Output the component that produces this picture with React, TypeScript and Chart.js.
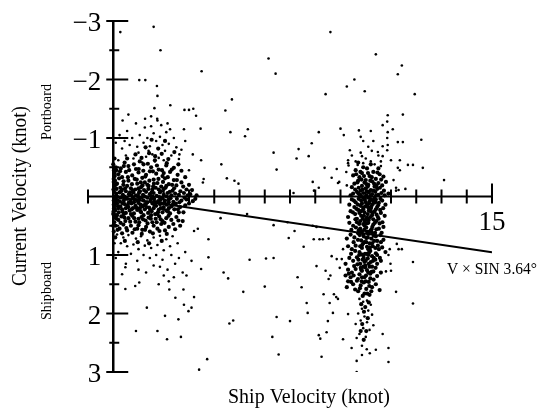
import React, { useEffect, useRef } from 'react';
import { Chart, registerables } from 'chart.js';

Chart.register(...registerables);

// ---- axes ----
const xMin = -1;
const xMax = 15;
const yMin = -3;
const yMax = 3;
const xTickValues = [-1, 1, 2, 3, 4, 5, 6, 7, 8, 9, 10, 11, 12, 13, 14, 15];
const yMajorTicks = [-3, -2, -1, 1, 2, 3];
const yTickLabels = ['\u22123', '\u22122', '\u22121', '1', '2', '3'];
const yMinorTicks = [-2.5, -1.5, -0.5, 0.5, 1.5, 2.5];
const xEndLabel = '15';
const xTitle = 'Ship Velocity (knot)';
const yTitle = 'Current Velocity (knot)';
const portLabel = 'Portboard';
const shipLabel = 'Shipboard';
const lineLabel = 'V \u00d7 SIN 3.64\u00b0';

// ---- V x sin 3.64° reference line ----
const lineSpeeds = [0, 15];
const lineCurrents = [0, 0.952];

// ---- observations: [ship velocity (knot), current velocity (knot)] ----
const leftCore: [number, number][] = [
  [0.1,-0.5],[0.3,-0.48],[0.6,-0.52],[0.9,-0.47],[1.2,-0.55],[1.5,-0.5],[1.8,-0.46],[2.1,-0.53],[2.4,-0.49],[0.45,-0.58],[1.05,-0.6],[1.65,-0.62],[2.0,-0.4],[2.7,-0.44],
  [0.05,-0.4],[0.2,-0.38],[0.5,-0.42],[0.75,-0.36],[1.0,-0.41],[1.3,-0.37],[1.45,-0.43],[1.7,-0.39],[1.95,-0.35],[2.25,-0.42],[2.55,-0.37],[0.35,-0.33],[0.85,-0.3],[1.15,-0.32],[1.6,-0.29],[2.05,-0.31],[2.4,-0.28],[2.85,-0.33],
  [0.02,-0.25],[0.15,-0.22],[0.4,-0.2],[0.6,-0.27],[0.95,-0.22],[1.25,-0.24],[1.4,-0.18],[1.75,-0.23],[1.9,-0.17],[2.2,-0.21],[2.5,-0.19],[2.7,-0.24],[3.0,-0.2],[0.28,-0.15],[0.7,-0.14],[1.1,-0.16],[1.55,-0.12],[2.0,-0.13],[2.35,-0.1],[2.9,-0.12],
  [0.03,-0.08],[0.12,-0.05],[0.25,-0.07],[0.38,-0.03],[0.5,-0.09],[0.62,-0.04],[0.8,-0.07],[0.9,-0.02],[1.02,-0.06],[1.18,-0.03],[1.3,-0.08],[1.45,-0.04],[1.6,-0.06],[1.72,-0.01],[1.85,-0.07],[2.0,-0.03],[2.15,-0.06],[2.3,-0.02],[2.45,-0.05],[2.6,-0.03],[2.8,-0.06],[3.05,-0.04],[3.3,-0.02],
  [0.05,0.03],[0.18,0.06],[0.3,0.02],[0.42,0.07],[0.55,0.04],[0.68,0.08],[0.78,0.02],[0.92,0.06],[1.05,0.03],[1.2,0.07],[1.35,0.02],[1.48,0.06],[1.62,0.04],[1.78,0.08],[1.92,0.03],[2.05,0.07],[2.2,0.05],[2.38,0.09],[2.52,0.04],[2.7,0.07],[2.9,0.05],[3.15,0.08],
  [0.02,0.14],[0.15,0.12],[0.28,0.17],[0.45,0.13],[0.6,0.18],[0.72,0.12],[0.88,0.16],[1.0,0.11],[1.15,0.17],[1.28,0.13],[1.42,0.19],[1.55,0.12],[1.7,0.16],[1.85,0.13],[2.0,0.18],[2.12,0.14],[2.3,0.17],[2.48,0.12],[2.65,0.18],[2.85,0.15],
  [0.08,0.24],[0.22,0.27],[0.35,0.22],[0.5,0.28],[0.65,0.24],[0.82,0.29],[0.95,0.23],[1.1,0.27],[1.25,0.22],[1.38,0.28],[1.52,0.25],[1.66,0.3],[1.8,0.23],[1.95,0.27],[2.1,0.24],[2.25,0.29],[2.42,0.22],[2.6,0.27],[0.0,0.3],
  [0.05,0.36],[0.2,0.4],[0.32,0.34],[0.48,0.42],[0.6,0.37],[0.75,0.33],[0.88,0.43],[1.0,0.38],[1.12,0.35],[1.28,0.41],[1.4,0.36],[1.55,0.44],[1.68,0.38],[1.82,0.34],[1.95,0.42],[2.1,0.37],[2.3,0.4],[2.5,0.35],[2.75,0.42],
  [0.1,0.5],[0.25,0.55],[0.4,0.48],[0.55,0.58],[0.7,0.5],[0.85,0.56],[1.0,0.49],[1.15,0.57],[1.3,0.52],[1.45,0.6],[1.6,0.5],[1.75,0.55],[1.9,0.47],[2.05,0.58],[2.2,0.52],[2.45,0.56],[2.65,0.5],
  [0.02,-0.3],[0.04,-0.18],[0.06,0.0],[0.08,0.09],[0.03,0.2],[0.1,0.32],[0.04,0.44],[0.12,-0.45],[0.0,-0.55],[0.05,-0.65],[0.02,0.6],
  [0.1,-0.2],[0.35,-0.12],[0.55,-0.18],[0.78,-0.1],[1.0,-0.14],[1.22,-0.11],[1.35,-0.2],[1.58,-0.17],[1.8,-0.12],[2.1,-0.18],[0.15,0.0],[0.45,0.0],[0.72,-0.02],[0.98,0.0],[1.25,0.0],[1.55,0.0],[1.82,0.01],[2.12,0.0],
  [0.1,0.1],[0.38,0.12],[0.65,0.1],[0.82,0.1],[1.08,0.14],[1.35,0.1],[1.62,0.09],[1.9,0.12],[2.2,0.1],[0.2,0.2],[0.5,0.2],[0.78,0.2],[1.05,0.2],[1.32,0.18],[1.6,0.2],[1.88,0.2],[2.2,0.2],[0.15,0.32],[0.42,0.3],[0.7,0.3],[1.2,0.32],[1.5,0.32],[1.75,0.3],
];

const leftDense: [number, number][] = [
  [0.07,-0.27],[0.23,-0.31],[0.41,-0.26],[0.58,-0.33],[0.74,-0.21],[0.93,-0.29],[1.09,-0.24],[1.27,-0.34],[1.43,-0.27],[1.61,-0.22],[1.79,-0.3],[1.97,-0.25],[2.16,-0.33],[2.33,-0.2],[2.52,-0.28],[2.77,-0.17],[3.12,-0.11],
  [0.13,-0.13],[0.31,-0.09],[0.47,-0.14],[0.66,-0.07],[0.87,-0.12],[1.06,-0.09],[1.16,-0.19],[1.39,-0.13],[1.52,-0.07],[1.68,-0.15],[1.89,-0.09],[2.07,-0.15],[2.24,-0.08],[2.41,-0.14],[2.66,-0.09],[2.95,-0.02],
  [0.09,0.04],[0.27,0.09],[0.49,0.03],[0.61,0.11],[0.84,0.05],[0.99,0.09],[1.13,0.02],[1.31,0.11],[1.51,0.03],[1.69,0.1],[1.87,0.06],[2.03,0.11],[2.27,0.03],[2.45,0.13],[2.62,0.1],[2.82,0.02],[3.0,0.12],[3.25,0.04],
  [0.04,0.21],[0.19,0.17],[0.37,0.26],[0.56,0.15],[0.73,0.22],[0.91,0.19],[1.08,0.25],[1.21,0.15],[1.46,0.23],[1.63,0.14],[1.77,0.27],[1.99,0.21],[2.17,0.26],[2.36,0.14],[2.56,0.22],[2.78,0.27],
  [0.13,0.38],[0.29,0.45],[0.44,0.36],[0.67,0.43],[0.83,0.37],[1.03,0.44],[1.18,0.39],[1.36,0.46],[1.49,0.38],[1.72,0.44],[1.88,0.39],[2.03,0.45],[2.19,0.33],[2.38,0.47],[2.58,0.41],
  [0.17,0.57],[0.35,0.63],[0.52,0.54],[0.76,0.62],[0.95,0.55],[1.13,0.64],[1.26,0.57],[1.57,0.63],[1.83,0.59],[2.12,0.64],[0.08,0.7],[0.46,0.76],[0.97,0.78],[1.42,0.8],[1.92,0.76],
  [0.27,-0.43],[0.42,-0.52],[0.63,-0.45],[0.82,-0.55],[1.01,-0.47],[1.19,-0.44],[1.37,-0.56],[1.57,-0.43],[1.73,-0.53],[1.93,-0.45],[2.12,-0.57],[2.32,-0.46],[2.58,-0.55],
  [0.55,-0.65],[0.88,-0.72],[1.12,-0.66],[1.42,-0.74],[1.66,-0.69],[1.92,-0.73],[2.18,-0.64],[2.42,-0.76],[1.28,-0.84],[1.78,-0.82],[2.05,-0.95],[1.52,-0.97],
  [0.01,-0.12],[0.02,0.07],[0.01,0.26],[0.03,-0.45],[0.0,0.5],[0.06,-0.35],[0.05,0.15],
];

const leftUpper: [number, number][] = [
  [0.2,-0.62],[0.5,-0.7],[0.8,-0.65],[1.0,-0.75],[1.3,-0.68],[1.55,-0.72],[1.8,-0.66],[2.05,-0.78],[2.3,-0.7],[2.6,-0.64],[0.35,-0.82],[0.65,-0.88],[0.95,-0.85],[1.2,-0.92],[1.45,-0.86],[1.7,-0.95],[1.95,-0.88],[2.2,-0.9],[2.5,-0.84],[0.1,-0.92],
  [0.75,-1.0],[1.05,-1.05],[1.35,-1.0],[1.6,-1.08],[1.85,-1.02],[2.1,-1.1],[2.4,-1.0],[0.55,-1.12],[1.25,-1.18],[1.5,-1.2],[1.9,-1.22],[2.25,-1.15],[0.9,-1.25],[1.75,-1.3],[2.0,-0.62],[1.15,-0.58],[0.45,-0.95],[2.7,-0.8],[2.85,-0.95],[1.4,-0.78],[0.25,-1.05],[1.65,-0.6],[2.15,-1.25],
];

const leftLower: [number, number][] = [
  [0.15,0.65],[0.4,0.7],[0.6,0.66],[0.9,0.72],[1.1,0.68],[1.35,0.75],[1.6,0.7],[1.85,0.67],[2.1,0.73],[2.35,0.68],[0.3,0.8],[0.55,0.85],[0.8,0.82],[1.0,0.9],[1.25,0.84],[1.5,0.88],[1.75,0.83],[2.0,0.92],[2.25,0.85],[2.55,0.8],
  [0.2,0.95],[0.7,0.98],[1.2,1.0],[1.45,1.05],[1.7,1.0],[1.95,1.08],[2.3,1.0],[2.6,1.05],[0.95,1.1],[1.6,1.18],[1.85,1.2],[2.15,1.25],[2.45,1.15],[1.0,1.25],[2.75,1.3],[1.3,1.3],[2.0,1.35],[2.4,1.38],[2.9,1.35],[1.8,1.5],[2.2,1.45],[0.5,1.15],[2.85,0.95],[3.1,1.1],[0.05,0.8],[0.1,1.05],
];

const rightCore: [number, number][] = [
  [9.6,-0.45],[9.85,-0.4],[10.05,-0.48],[10.3,-0.42],[10.55,-0.38],[9.75,-0.33],[10.15,-0.35],[10.4,-0.3],[10.7,-0.34],[9.5,-0.36],[10.0,-0.28],
  [9.55,-0.22],[9.7,-0.27],[9.85,-0.18],[9.95,-0.24],[10.1,-0.2],[10.25,-0.26],[10.35,-0.17],[10.5,-0.23],[10.65,-0.19],[10.8,-0.25],[9.45,-0.16],[10.0,-0.14],[10.2,-0.11],[10.45,-0.13],[9.8,-0.1],
  [9.5,-0.05],[9.65,-0.08],[9.78,-0.03],[9.9,-0.06],[10.02,-0.02],[10.12,-0.07],[10.25,-0.04],[10.38,-0.08],[10.5,-0.03],[10.62,-0.06],[10.75,-0.02],[9.4,-0.02],[10.9,-0.05],
  [9.45,0.05],[9.6,0.1],[9.72,0.04],[9.85,0.12],[9.95,0.06],[10.05,0.15],[10.15,0.08],[10.28,0.13],[10.4,0.05],[10.52,0.11],[10.65,0.07],[10.78,0.14],[9.55,0.18],[9.9,0.19],[10.2,0.2],[10.45,0.18],[10.1,0.02],[9.35,0.14],
  [9.4,0.25],[9.58,0.3],[9.7,0.23],[9.82,0.33],[9.95,0.27],[10.05,0.36],[10.12,0.24],[10.25,0.32],[10.35,0.26],[10.48,0.35],[10.6,0.28],[10.75,0.33],[9.65,0.38],[10.0,0.4],[10.3,0.39],[9.3,0.35],
  [9.35,0.45],[9.5,0.5],[9.65,0.44],[9.78,0.55],[9.9,0.47],[10.02,0.53],[10.1,0.45],[10.2,0.58],[10.3,0.48],[10.42,0.56],[10.55,0.46],[10.7,0.52],[9.85,0.6],[10.15,0.6],[9.95,0.42],
  [9.4,0.65],[9.55,0.7],[9.7,0.63],[9.82,0.75],[9.92,0.68],[10.02,0.78],[10.1,0.64],[10.22,0.72],[10.32,0.67],[10.45,0.76],[10.58,0.66],[10.7,0.74],[9.9,0.8],[10.15,0.8],[9.25,0.72],
  [9.3,0.85],[9.45,0.9],[9.6,0.84],[9.75,0.95],[9.85,0.88],[9.97,0.98],[10.05,0.86],[10.18,0.93],[10.28,0.85],[10.4,0.97],[10.52,0.9],[10.65,0.87],[9.9,1.0],[10.1,1.0],[10.78,0.95],
  [9.35,1.05],[9.5,1.1],[9.65,1.04],[9.78,1.15],[9.88,1.08],[9.98,1.18],[10.08,1.06],[10.2,1.12],[10.32,1.05],[10.45,1.15],[10.6,1.1],[9.9,1.2],[10.15,1.2],[9.2,1.15],
  [9.3,1.25],[9.45,1.3],[9.6,1.24],[9.75,1.33],[9.85,1.27],[9.95,1.38],[10.05,1.26],[10.18,1.32],[10.3,1.28],[10.45,1.36],[9.2,1.35],[9.4,1.38],[10.6,1.3],
  [9.3,1.45],[9.5,1.5],[9.65,1.44],[9.8,1.52],[9.92,1.47],[10.02,1.58],[10.12,1.46],[10.25,1.55],[10.4,1.5],[9.7,1.62],[9.95,1.66],[10.15,1.68],[9.25,1.55],[10.55,1.6],
  [9.72,-0.15],[9.88,-0.12],[10.08,-0.17],[10.3,-0.1],[10.42,-0.19],[9.76,0.0],[9.96,0.02],[10.18,-0.01],[10.34,0.03],[9.8,0.16],[10.0,0.1],[10.22,0.17],[10.38,0.1],[9.75,0.28],[9.9,0.22],[10.08,0.3],[10.2,0.25],[10.4,0.22],
  [9.78,0.42],[9.95,0.5],[10.12,0.4],[10.26,0.52],[10.42,0.42],[9.72,0.58],[9.9,0.65],[10.05,0.6],[10.25,0.62],[10.4,0.68],[9.78,0.85],[9.95,0.78],[10.1,0.9],[10.25,0.8],[10.38,0.88],
  [9.74,1.0],[9.92,1.05],[10.05,0.98],[10.25,1.02],[10.38,1.08],[9.8,1.22],[9.95,1.12],[10.1,1.3],[10.25,1.2],[9.85,1.38],[10.0,1.45],[10.18,1.4],
];

const rightDense: [number, number][] = [
  [9.62,-0.38],[9.79,-0.42],[9.93,-0.35],[10.09,-0.4],[10.24,-0.33],[10.46,-0.41],[10.61,-0.29],[9.67,-0.24],[9.83,-0.29],[10.03,-0.21],[10.18,-0.27],[10.33,-0.22],[10.56,-0.15],[10.72,-0.1],
  [9.58,-0.12],[9.71,-0.05],[9.87,0.01],[10.06,-0.09],[10.21,0.05],[10.41,-0.02],[10.58,0.04],[9.53,0.07],[9.69,0.14],[9.82,0.07],[9.98,0.17],[10.13,0.12],[10.31,0.08],[10.49,0.15],[10.69,0.2],
  [9.49,0.27],[9.63,0.21],[9.81,0.25],[9.93,0.33],[10.1,0.19],[10.27,0.28],[10.43,0.31],[10.57,0.23],[9.59,0.39],[9.74,0.47],[9.88,0.38],[10.04,0.46],[10.19,0.35],[10.36,0.45],[10.51,0.38],[10.66,0.44],
  [9.43,0.57],[9.61,0.53],[9.76,0.66],[9.94,0.57],[10.08,0.7],[10.23,0.56],[10.37,0.62],[10.52,0.55],[10.63,0.62],[9.52,0.78],[9.69,0.74],[9.86,0.83],[10.02,0.71],[10.17,0.87],[10.33,0.76],[10.48,0.84],[10.6,0.78],
  [9.42,0.98],[9.58,0.93],[9.71,1.08],[9.83,0.99],[10.0,1.1],[10.13,0.96],[10.29,1.1],[10.45,1.0],[10.56,1.05],[9.54,1.19],[9.67,1.16],[9.82,1.25],[9.97,1.21],[10.12,1.15],[10.23,1.29],[10.39,1.22],
  [9.33,1.32],[9.52,1.35],[9.69,1.41],[9.84,1.45],[10.01,1.35],[10.14,1.53],[10.31,1.42],[9.42,1.46],[9.58,1.59],[9.77,1.57],[9.88,1.7],[10.06,1.66],[10.22,1.62],[9.82,1.84],[9.98,1.89],[10.12,1.81],[9.93,1.97],[10.08,2.08],[9.86,2.18],[10.02,2.3],[9.92,2.45],[9.8,2.3],
  [9.9,-0.5],[10.2,-0.55],[10.5,-0.48],[9.7,-0.58],
];

const rightUpper: [number, number][] = [
  [9.6,-0.6],[9.8,-0.75],[10.0,-0.65],[10.35,-0.55],[10.5,-0.7],[9.45,-0.7],[10.1,-0.85],[9.9,-0.95],[10.3,-0.95],[10.6,-0.6],
  [9.37,-0.79],[10.24,-0.78],[10.48,-0.76],[10.67,-0.86],[10.87,-0.88],[10.85,-0.79],[10.67,-0.69],[11.0,-0.62],[11.35,-0.62],[9.85,-0.69],[9.3,-0.62],[9.3,-0.57],[9.32,-0.53],[9.9,-0.57],[10.2,-0.6],[9.68,-0.54],[10.6,-0.52],
  [9.8,-1.02],[10.85,-1.0],[9.73,-1.13],[10.2,-1.12],[9.13,-1.05],[9.0,-1.16],[10.67,-1.22],[10.85,-1.28],[10.87,-1.1],[11.07,-1.15],
];

const rightTail: [number, number][] = [
  [9.75,1.75],[9.9,1.8],[10.05,1.78],[10.2,1.85],[9.85,1.92],[10.1,1.95],[9.7,2.0],[9.95,2.05],[10.25,2.02],[9.8,2.12],[10.05,2.15],[9.9,2.25],[10.15,2.28],[9.75,2.35],[10.0,2.4],[10.3,2.2],[9.6,2.18],
  [10.67,2.35],[10.9,2.59],[10.4,2.62],[10.9,2.83],[10.16,2.68],[9.85,2.71],[9.64,2.81],[9.64,3.0],[9.44,2.59],[9.64,2.42],[9.85,2.55],[10.04,2.61],
];

const scatterPoints: [number, number][] = [
  [0.28,-2.81],[1.6,-2.9],[1.87,-2.5],[3.5,-2.14],[1.03,-1.99],[1.27,-1.99],[1.73,-1.89],[1.75,-1.72],[2.26,-1.56],[1.63,-1.51],[2.82,-1.48],[3.0,-1.48],[3.17,-1.5],[3.28,-1.38],[4.7,-1.66],[4.44,-1.47],[6.15,-2.36],
  [0.37,-1.3],[0.6,-1.4],[1.26,-1.33],[1.5,-1.37],[1.74,-1.33],[3.46,-1.16],[4.64,-1.1],[5.33,-1.15],[5.22,-1.03],[4.28,-0.55],[3.48,-0.62],[3.15,-0.72],[3.58,-0.3],[3.55,-0.24],[4.5,-0.31],[4.8,-0.27],[4.96,-0.22],[2.62,-0.72],[2.8,-1.15],[3.0,-0.45],
  [0.48,1.21],[0.35,1.33],[0.48,1.58],[0.87,1.53],[1.03,1.47],[0.9,2.3],[1.33,1.9],[1.75,2.3],[2.05,2.04],[2.13,2.44],[2.68,2.4],[2.58,2.1],[2.22,1.59],[2.46,1.73],[2.78,1.59],[2.8,1.85],[2.98,1.96],[3.1,1.9],[3.2,1.72],[3.4,2.96],[3.72,2.78],[4.6,2.17],[4.75,2.12],
  [3.77,1.04],[3.77,0.73],[3.48,1.24],[4.37,1.3],[4.55,1.4],[5.15,1.63],[5.4,1.08],[6.05,1.06],[6.0,1.54],[3.2,0.59],[3.35,0.55],[4.25,0.37],[5.3,0.3],
  [8.6,-2.81],[10.4,-2.43],[11.43,-2.24],[11.27,-2.09],[6.43,-2.1],[9.55,-2.0],[9.25,-1.88],[8.41,-1.75],[9.96,-1.8],[11.94,-1.75],[11.47,-1.4],[10.87,-1.39],[8.14,-1.1],[11.27,-0.93],[11.47,-0.93],[12.2,-0.97],
  [7.86,-0.91],[7.34,-0.81],[7.26,-0.65],[7.74,-0.69],[6.35,-0.75],[6.47,-0.46],[11.27,-0.49],[11.35,-0.45],[11.67,-0.54],[11.87,-0.54],[12.26,-0.49],[8.37,-0.49],[8.85,-0.47],[8.65,-0.32],[8.9,-0.23],[8.95,-0.25],[9.25,-0.19],[9.23,-0.42],
  [7.9,-0.25],[8.14,-0.15],[7.95,-0.1],[13.1,-0.28],[11.1,-0.28],[11.2,-0.15],[11.2,-0.1],[11.3,-0.11],[11.57,-0.13],[7.14,-0.06],
  [6.35,1.05],[7.3,1.38],[7.46,1.55],[7.54,0.86],[6.95,0.71],[7.18,0.59],[8.05,1.19],[7.66,1.82],[7.7,1.99],[6.47,2.06],[7.0,2.13],[6.3,2.4],[6.55,2.7],[8.14,2.37],[8.2,2.43],[8.25,2.74],[8.45,2.32],[9.1,2.44],[8.5,2.13],[8.7,1.99],[9.3,2.01],
  [8.33,1.67],[8.57,1.82],[8.74,1.67],[8.83,1.72],[8.9,1.75],[8.53,1.41],[8.6,1.35],[8.41,1.27],[8.17,0.73],[8.3,0.73],[8.53,0.72],[7.94,0.73],[8.05,0.52],[8.65,1.02],[8.85,1.07],[9.05,1.07],[8.97,1.22],[9.1,0.9],
  [11.87,1.12],[11.87,1.83],[11.2,1.63],[11.0,1.27],[10.95,0.9],[10.9,1.0],[10.98,1.15],[10.8,1.28],[11.3,0.9],[11.23,0.81],[11.43,0.9],[6.35,0.49],[6.9,0.44],[7.9,0.5],
];

const toXY = (pts: [number, number][]) => pts.map(([x, y]) => ({ x, y }));

const FONT = '"Liberation Serif", "Times New Roman", serif';

function drawText(
  ctx: CanvasRenderingContext2D,
  text: string,
  x: number,
  y: number,
  size: number,
  align: CanvasTextAlign,
  width?: number,
  rotate?: number
) {
  ctx.save();
  ctx.font = `${size}px ${FONT}`;
  ctx.fillStyle = '#000';
  ctx.textBaseline = 'alphabetic';
  ctx.textAlign = align;
  ctx.translate(x, y);
  if (rotate) ctx.rotate(rotate);
  if (width) {
    const w = ctx.measureText(text).width;
    ctx.scale(width / w, 1);
  }
  ctx.fillText(text, 0, 0);
  ctx.restore();
}

const axesPlugin = {
  id: 'customAxes',
  beforeDatasetsDraw(chart: any) {
    const ctx: CanvasRenderingContext2D = chart.ctx;
    const xs = chart.scales.x;
    const ys = chart.scales.y;
    const x0 = xs.getPixelForValue(0);
    const y0 = ys.getPixelForValue(0);
    ctx.save();
    ctx.strokeStyle = '#000';
    ctx.lineCap = 'butt';
    ctx.lineWidth = 2;
    ctx.beginPath();
    ctx.moveTo(xs.getPixelForValue(xMin), y0);
    ctx.lineTo(xs.getPixelForValue(xMax), y0);
    ctx.stroke();
    xTickValues.forEach((v) => {
      const px = xs.getPixelForValue(v);
      ctx.beginPath();
      ctx.moveTo(px, v === xMax ? y0 - 13 : y0 - 7);
      ctx.lineTo(px, y0 + 7);
      ctx.stroke();
    });
    ctx.lineWidth = 2.5;
    ctx.beginPath();
    ctx.moveTo(x0, ys.getPixelForValue(yMin));
    ctx.lineTo(x0, ys.getPixelForValue(yMax));
    ctx.stroke();
    ctx.lineWidth = 2;
    yMajorTicks.forEach((v) => {
      const py = ys.getPixelForValue(v);
      ctx.beginPath();
      ctx.moveTo(x0 - 7, py);
      ctx.lineTo(x0 + 15, py);
      ctx.stroke();
    });
    yMinorTicks.forEach((v) => {
      const py = ys.getPixelForValue(v);
      ctx.beginPath();
      ctx.moveTo(x0 - 4, py);
      ctx.lineTo(x0 + 6, py);
      ctx.stroke();
    });
    ctx.restore();
  },
  afterDatasetsDraw(chart: any) {
    const ctx: CanvasRenderingContext2D = chart.ctx;
    const xs = chart.scales.x;
    const ys = chart.scales.y;
    const x0 = xs.getPixelForValue(0);
    const y0 = ys.getPixelForValue(0);
    yMajorTicks.forEach((v, i) => {
      drawText(ctx, yTickLabels[i], x0 - 12, ys.getPixelForValue(v) + 10, 27, 'right');
    });
    drawText(ctx, xEndLabel, xs.getPixelForValue(xMax), y0 + 33, 27, 'center');
    drawText(ctx, lineLabel, 447, 274, 17, 'left', 90);
    drawText(ctx, xTitle, 309, 403, 21, 'center', 162);
    drawText(ctx, yTitle, 26, 196, 21, 'center', 180, -Math.PI / 2);
    drawText(ctx, portLabel, 51, 112, 15, 'center', 56, -Math.PI / 2);
    drawText(ctx, shipLabel, 51, 291, 15, 'center', 58, -Math.PI / 2);
  },
};

export default function App() {
  const ref = useRef<HTMLCanvasElement>(null);
  useEffect(() => {
    if (!ref.current) return;
    const dotStyle = { backgroundColor: '#000', borderWidth: 0, pointRadius: 1.3 };
    const coreStyle = { backgroundColor: '#000', borderWidth: 0, pointRadius: 2.1 };
    const chart = new Chart(ref.current, {
      type: 'scatter',
      data: {
        datasets: [
          { label: 'left core', data: toXY(leftCore), ...coreStyle },
          { label: 'left dense', data: toXY(leftDense), ...coreStyle },
          { label: 'left upper', data: toXY(leftUpper), ...dotStyle },
          { label: 'left lower', data: toXY(leftLower), ...dotStyle },
          { label: 'right core', data: toXY(rightCore), ...coreStyle },
          { label: 'right dense', data: toXY(rightDense), ...coreStyle },
          { label: 'right upper', data: toXY(rightUpper), ...dotStyle },
          { label: 'right tail', data: toXY(rightTail), ...dotStyle },
          { label: 'scatter', data: toXY(scatterPoints), ...dotStyle },
          {
            type: 'line',
            label: lineLabel,
            data: lineSpeeds.map((x, i) => ({ x, y: lineCurrents[i] })),
            borderColor: '#000',
            borderWidth: 2,
            pointRadius: 0,
            showLine: true,
            fill: false,
          } as any,
        ],
      },
      options: {
        responsive: false,
        animation: false,
        devicePixelRatio: 1,
        layout: { padding: { left: 88, right: 47, top: 21, bottom: 37 } },
        scales: {
          x: { type: 'linear', min: xMin, max: xMax, display: false },
          y: { type: 'linear', min: yMin, max: yMax, reverse: true, display: false },
        },
        plugins: { legend: { display: false }, tooltip: { enabled: false } },
        elements: { point: { hoverRadius: 0 } },
        events: [],
      },
      plugins: [axesPlugin],
    });
    return () => chart.destroy();
  }, []);
  return (
    <div style={{ position: 'absolute', left: 0, top: 0, width: 539, height: 409, background: '#fff' }}>
      <canvas ref={ref} width={539} height={409} style={{ display: 'block' }} />
    </div>
  );
}
